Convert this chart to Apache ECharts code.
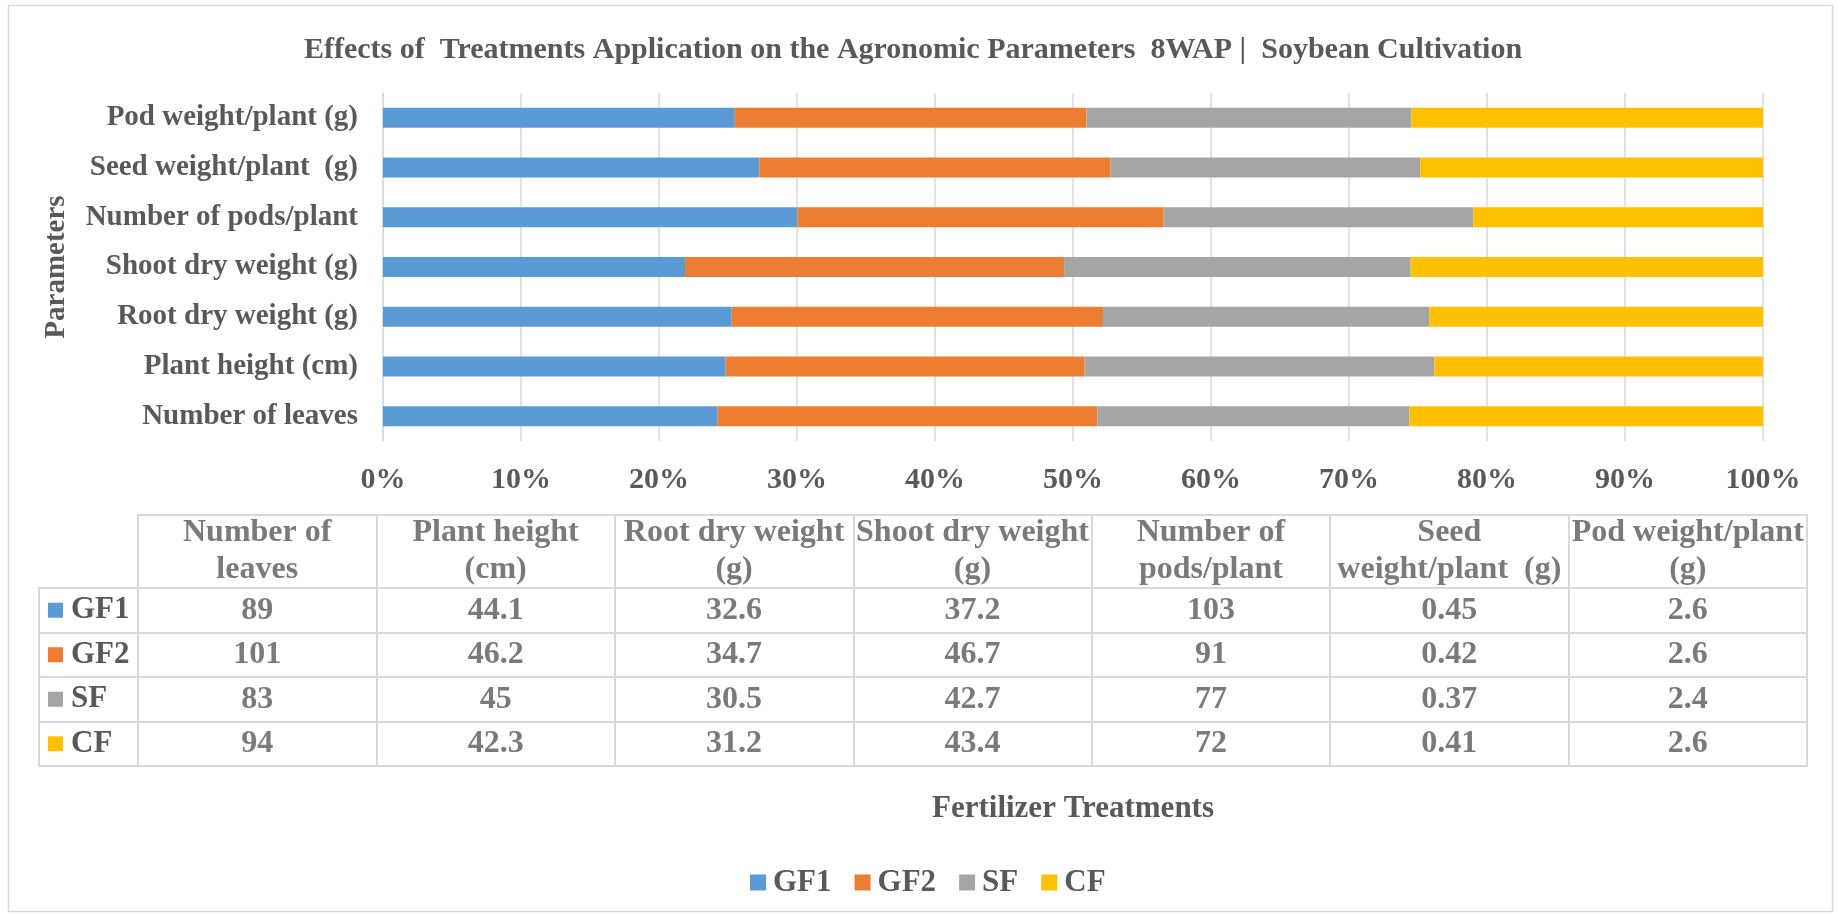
<!DOCTYPE html>
<html>
<head>
<meta charset="utf-8">
<script src="https://cdn.jsdelivr.net/npm/echarts@6/dist/echarts.min.js"></script>
<style>
  html, body { margin: 0; padding: 0; background: #fff; }
  #chart { width: 1838px; height: 917px; }
</style>
</head>
<body>
<div id="chart"></div>
<script>
// ---- data ----
const categories = ['Number of leaves', 'Plant height (cm)', 'Root dry weight (g)', 'Shoot dry weight (g)', 'Number of pods/plant', 'Seed weight/plant  (g)', 'Pod weight/plant (g)'];
const tableHeaders = ['Number of\nleaves', 'Plant height\n(cm)', 'Root dry weight\n(g)', 'Shoot dry weight\n(g)', 'Number of\npods/plant', 'Seed\nweight/plant  (g)', 'Pod weight/plant\n(g)'];
const treatments = ['GF1', 'GF2', 'SF', 'CF'];
const GF1 = [89, 44.1, 32.6, 37.2, 103, 0.45, 2.6];
const GF2 = [101, 46.2, 34.7, 46.7, 91, 0.42, 2.6];
const SF  = [83, 45, 30.5, 42.7, 77, 0.37, 2.4];
const CF  = [94, 42.3, 31.2, 43.4, 72, 0.41, 2.6];
const xTicks = [0, 10, 20, 30, 40, 50, 60, 70, 80, 90, 100];

const colors = ['#5B9BD5', '#ED7D31', '#A5A5A5', '#FFC000'];
const seriesValues = [GF1, GF2, SF, CF];
const textColor = '#595959';
const font = 'Liberation Serif, Times New Roman, serif';
const lineColor = '#d9d9d9';

// 100% stacked: share of each treatment per parameter
const totals = categories.map((_, i) => seriesValues.reduce((s, arr) => s + arr[i], 0));
const pct = seriesValues.map(arr => arr.map((v, i) => v / totals[i] * 100));

const barSeries = treatments.map((name, k) => ({
  name: name,
  type: 'bar',
  stack: 'total',
  xAxisIndex: 0,
  yAxisIndex: 0,
  barWidth: 20,
  itemStyle: { color: colors[k] },
  data: pct[k],
  silent: true
}));

// table cells
const cellData = [];
seriesValues.forEach((arr, r) => arr.forEach((v, c) => cellData.push([c, r, v])));
const headerData = tableHeaders.map((h, c) => [c, 0, h]);

const rich = {};
treatments.forEach((t, i) => { rich['s' + i] = { width: 15, height: 15, backgroundColor: colors[i] }; });
rich.t = { fontSize: 31, fontWeight: 'bold', fontFamily: font, color: textColor, padding: [0, 0, 0, 8] };

const option = {
  animation: false,
  backgroundColor: '#fff',
  textStyle: { fontFamily: font },
  title: {
    text: 'Effects of  Treatments Application on the Agronomic Parameters  8WAP |  Soybean Cultivation',
    left: 908,
    textAlign: 'center',
    top: 30,
    textStyle: { fontFamily: font, fontSize: 30, fontWeight: 'bold', color: textColor }
  },
  legend: {
    data: treatments,
    left: 745,
    top: 862,
    icon: 'rect',
    itemWidth: 16,
    itemHeight: 16,
    itemGap: 23,
    textStyle: { fontFamily: font, fontSize: 31, fontWeight: 'bold', color: textColor, padding: [0, 0, 0, 2] },
    selectedMode: false
  },
  graphic: [{
    type: 'rect',
    shape: { x: 8.5, y: 5.5, width: 1824, height: 906 },
    style: { fill: 'none', stroke: lineColor, lineWidth: 1.5 },
    silent: true,
    z: -10
  }],
  grid: [
    { left: 383, right: 75, top: 93, height: 348 },
    { left: 138, right: 31, top: 515, height: 73, show: true, borderColor: lineColor, borderWidth: 2 },
    { left: 138, right: 31, top: 588, height: 178, show: true, borderColor: lineColor, borderWidth: 2 },
    { left: 39, width: 99, top: 588, height: 178, show: true, borderColor: lineColor, borderWidth: 2 }
  ],
  xAxis: [
    {
      gridIndex: 0, type: 'value', min: 0, max: 100, interval: 10,
      axisLine: { show: false }, axisTick: { show: false },
      splitLine: { show: true, lineStyle: { color: lineColor, width: 1.5 } },
      axisLabel: { formatter: '{value}%', fontSize: 30, fontWeight: 'bold', fontFamily: font, color: textColor, margin: 24 },
      name: 'Fertilizer Treatments', nameLocation: 'middle', nameGap: 352,
      nameTextStyle: { fontSize: 31, fontWeight: 'bold', fontFamily: font, color: textColor }
    },
    {
      gridIndex: 1, type: 'category', data: tableHeaders, boundaryGap: true,
      axisLine: { show: false }, axisTick: { show: false }, axisLabel: { show: false },
      splitLine: { show: true, lineStyle: { color: lineColor, width: 2 } }
    },
    {
      gridIndex: 2, type: 'category', data: categories, boundaryGap: true,
      axisLine: { show: false }, axisTick: { show: false }, axisLabel: { show: false },
      splitLine: { show: true, lineStyle: { color: lineColor, width: 2 } }
    },
    {
      gridIndex: 3, type: 'category', data: [''], boundaryGap: true,
      axisLine: { show: false }, axisTick: { show: false }, axisLabel: { show: false },
      splitLine: { show: false }
    }
  ],
  yAxis: [
    {
      gridIndex: 0, type: 'category', data: categories,
      axisLine: { show: true, lineStyle: { color: lineColor, width: 1.5 } }, axisTick: { show: false },
      axisLabel: { fontSize: 29, fontWeight: 'bold', fontFamily: font, color: textColor, margin: 25 },
      name: 'Parameters', nameLocation: 'middle', nameGap: 312, nameRotate: 90,
      nameTextStyle: { fontSize: 29, fontWeight: 'bold', fontFamily: font, color: textColor }
    },
    {
      gridIndex: 1, type: 'category', data: [''],
      axisLine: { show: false }, axisTick: { show: false }, axisLabel: { show: false },
      splitLine: { show: false }
    },
    {
      gridIndex: 2, type: 'category', data: treatments, inverse: true,
      axisLine: { show: false }, axisTick: { show: false }, axisLabel: { show: false },
      splitLine: { show: true, lineStyle: { color: lineColor, width: 2 } }
    },
    {
      gridIndex: 3, type: 'category', data: treatments, inverse: true, position: 'left',
      axisLine: { show: false }, axisTick: { show: false },
      splitLine: { show: true, lineStyle: { color: lineColor, width: 2 } },
      axisLabel: {
        inside: true, margin: 9,
        formatter: (v, i) => '{s' + i + '|}{t|' + v + '}',
        rich: rich
      }
    }
  ],
  series: barSeries.concat([
    {
      type: 'scatter', xAxisIndex: 1, yAxisIndex: 1, silent: true,
      symbolSize: 1, itemStyle: { color: 'rgba(0,0,0,0)' },
      data: headerData,
      label: {
        show: true, position: 'inside', formatter: p => p.value[2],
        fontSize: 32, fontWeight: 'bold', fontFamily: font, color: textColor, lineHeight: 37, align: 'center'
      }
    },
    {
      type: 'scatter', xAxisIndex: 2, yAxisIndex: 2, silent: true,
      symbolSize: 1, itemStyle: { color: 'rgba(0,0,0,0)' },
      data: cellData,
      label: {
        show: true, position: 'inside', formatter: p => String(p.value[2]),
        fontSize: 32, fontWeight: 'bold', fontFamily: font, color: textColor
      }
    }
  ])
};

const chart = echarts.init(document.getElementById('chart'), null, { renderer: 'canvas' });
chart.setOption(option);
</script>
</body>
</html>
